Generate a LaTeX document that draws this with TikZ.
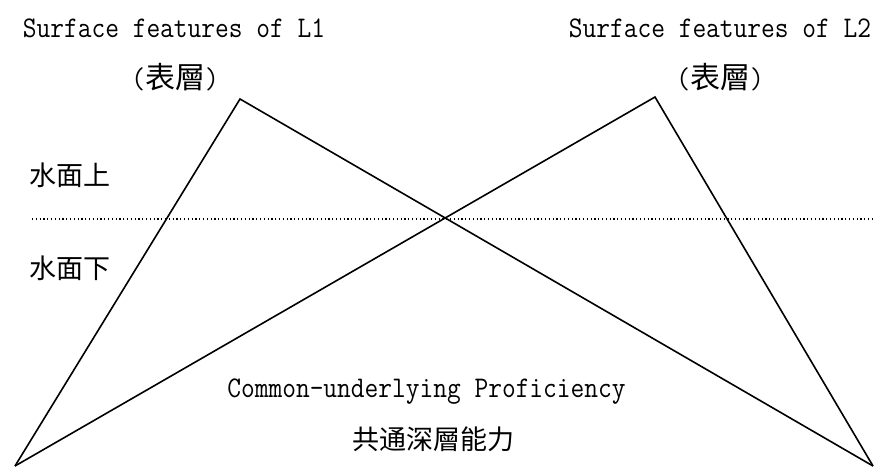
\documentclass[tikz,border=0pt]{standalone}
\usepackage{fontspec}
\setmonofont[FakeStretch=0.889]{Latin Modern Mono}
\newfontfamily\cjk{Noto Sans CJK SC}
\begin{document}
\begin{tikzpicture}[x=1pt,y=-1pt,
  lat/.style={inner sep=0pt,anchor=base,font=\ttfamily\fontsize{30}{30}\selectfont},
  cj/.style={inner sep=0pt,anchor=base,font=\cjk\fontsize{27}{27}\selectfont},
  edge/.style={line width=1.6pt,line join=miter},
  waterline/.style={line width=1.2pt,dash pattern=on 1.2pt off 2.6pt}]
\useasboundingbox (0,0) rectangle (875,467);
\coordinate (apexL) at (240,99);
\coordinate (apexR) at (655,97);
\coordinate (botL) at (15,466);
\coordinate (botR) at (873,466);
\coordinate (wlA) at (32,219);
\coordinate (wlB) at (875,219);
\draw[edge] (botL) -- (apexL) -- (botR);
\draw[edge] (botL) -- (apexR) -- (botR);
\draw[waterline] (wlA) -- (wlB);
\node[lat] (t1) at (174,37) {Surface features of L1};
\node[lat] (t2) at (720,37) {Surface features of L2};
\node[lat] (s1) at (175,88) {(\cjk 表層\ttfamily)};
\node[lat] (s2) at (720,88) {(\cjk 表層\ttfamily)};
\node[cj,anchor=base west] (above) at (29,185) {水面上};
\node[cj,anchor=base west] (below) at (29,278) {水面下};
\node[lat] (cup) at (426.5,397) {Common-underlying Proficiency};
\node[cj] (cupzh) at (433.5,449) {共通深層能力};
\end{tikzpicture}
\end{document}
